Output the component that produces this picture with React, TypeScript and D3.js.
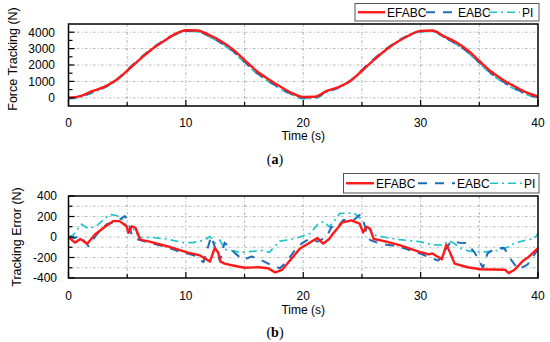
import React, { useRef, useEffect } from 'react';
import * as d3 from 'd3';

// Force tracking (top panel), sampled every second
const forceTime = d3.range(0, 41);
const forceEFABC = [0, 100, 400, 650, 1050, 1650, 2300, 2900, 3400, 3850, 4120, 4100, 3820, 3450, 2950, 2300, 1650, 1150, 700, 300, 50,
  60, 420, 650, 1030, 1650, 2300, 2900, 3400, 3800, 4080, 4100, 3750, 3400, 2900, 2250, 1600, 1100, 700, 330, 80];
const forceEABC = [-20, 60, 340, 620, 1050, 1700, 2350, 2950, 3450, 3850, 4080, 4050, 3750, 3350, 2850, 2200, 1550, 1050, 600, 230, 0,
  20, 380, 620, 1030, 1700, 2350, 2950, 3450, 3820, 4050, 4070, 3700, 3300, 2800, 2150, 1500, 1000, 580, 250, 20];
const forcePI = [-60, 20, 300, 580, 1000, 1620, 2280, 2880, 3400, 3800, 4050, 4030, 3720, 3320, 2800, 2150, 1500, 1000, 560, 180, -60,
  -40, 330, 580, 990, 1620, 2280, 2880, 3400, 3780, 4030, 4050, 3680, 3280, 2760, 2100, 1450, 950, 530, 200, -30];

// Tracking error (bottom panel), [time, error]
const errEFABC = [[0, 0], [0.55, -55], [1.0, -20], [1.6, -65], [2.25, 25], [3.0, 90], [3.8, 155], [4.35, 155], [4.95, 105], [5.1, 40],
  [5.4, 105], [5.7, 90], [6.1, -25], [6.9, -45], [8.4, -90], [10.1, -150], [11.2, -180], [12.05, -240], [12.45, -110], [12.75, -150],
  [12.95, -240], [13.3, -260], [14.0, -278], [15.0, -300], [16.2, -295], [17.0, -305], [17.6, -345], [18.2, -320], [18.9, -225],
  [19.7, -115], [21.2, -10], [21.7, -65], [22.2, -20], [22.55, 35], [23.3, 140], [24.1, 163], [24.8, 130], [25.1, 45], [25.4, 100],
  [25.7, 80], [26.0, -20], [26.9, -40], [28.2, -80], [29.9, -145], [30.7, -170], [31.0, -160], [31.8, -218], [32.2, -75],
  [32.5, -150], [32.9, -260], [34.0, -295], [35.1, -315], [37.2, -320], [37.5, -352], [38.0, -320], [38.7, -235], [39.2, -195],
  [40, -108]];
const errEABC = [[0, 0], [0.5, -10], [1.0, 10], [1.7, -90], [2.4, 25], [3.25, 125], [4.1, 150], [4.8, 205], [5.1, 150], [5.4, 10],
  [5.8, -20], [6.4, -40], [8.1, -90], [9.5, -145], [10.6, -175], [11.5, -245], [12.15, 5], [12.9, -230], [13.3, -55], [14.2, -160],
  [14.9, -225], [15.6, -190], [16.3, -220], [17.3, -275], [18.0, -305], [18.6, -240], [19.3, -125], [19.9, -60], [20.6, -15],
  [21.2, -45], [22.0, 0], [22.4, 100], [22.8, 80], [23.4, 165], [24.3, 165], [24.8, 215], [25.1, 160], [25.4, 50], [25.7, -30],
  [26.3, -55], [27.1, -75], [28.2, -95], [29.9, -160], [31.0, -210], [31.5, -230], [32.6, -40], [33.3, -55], [33.9, -60],
  [34.6, -150], [35.3, -300], [35.7, -160], [36.3, -115], [37.1, -105], [37.7, -220], [38.3, -315], [39.1, -270], [40, -120]];
const errPI = [[0, 0], [0.4, 20], [1.1, 125], [1.7, 80], [2.4, 110], [3.0, 170], [3.5, 220], [4.1, 210], [4.7, 165], [5.1, 70],
  [5.5, 80], [6.1, -5], [7.2, -5], [8.4, -20], [9.8, -55], [10.6, -55], [11.2, -40], [11.6, -30], [12.05, 5], [12.5, -60],
  [12.9, -30], [13.3, -120], [14.2, -140], [14.6, -150], [15.7, -140], [16.6, -130], [17.1, -150], [17.5, -100], [18.0, -40],
  [18.9, -25], [19.7, 0], [20.6, 35], [21.3, 135], [21.8, 150], [22.2, 100], [22.6, 150], [23.1, 230], [24.3, 235], [24.8, 190],
  [25.4, 110], [26.0, 20], [27.1, -5], [28.2, -25], [29.9, -45], [31.0, -75], [31.9, -80], [32.3, -40], [32.7, -50],
  [33.5, -115], [34.2, -140], [35.5, -145], [36.7, -130], [37.4, -100], [38.0, -60], [39.0, -30], [39.7, -15], [40, 35]];

const xTicks = [0, 10, 20, 30, 40];
const forceTicks = [0, 1000, 2000, 3000, 4000];
const errTicks = [-400, -200, 0, 200, 400];
const seriesNames = ['EFABC', 'EABC', 'PI'];

const FONT = "Arial, 'Liberation Sans', sans-serif";
const colors = ['#ff1a1a', '#1f6db8', '#1fc3cc'];
const dashes = [null, '9,8', '8,4,2,4'];
const widths = [2.4, 2, 1.7];

const App = () => {
  const svgRef = useRef();

  useEffect(() => {
    const svg = d3.select(svgRef.current);
    svg.selectAll('*').remove();

    const drawPanel = ({ top, bottom, yDomain, yTicks, yMinor, yGrid, series, curve, yLabel, labelX, labelY, labelRight, tickBase, titleBase, legendBox, tag, tagBase, id }) => {
      const left = 68.5, right = 538;
      const x = d3.scaleLinear().domain([0, 40]).range([left, right]);
      const y = d3.scaleLinear().domain(yDomain).range([bottom, top]);
      const g = svg.append('g');

      g.append('clipPath').attr('id', id)
        .append('rect').attr('x', left).attr('y', top).attr('width', right - left).attr('height', bottom - top);

      // grid
      const grid = g.append('g').attr('stroke', '#a8a8a8').attr('stroke-width', 0.8).attr('stroke-dasharray', '3,2,1,2');
      d3.range(5, 40, 5).forEach(t => grid.append('line')
        .attr('x1', x(t)).attr('x2', x(t)).attr('y1', top).attr('y2', bottom));
      yGrid.forEach(v => grid.append('line')
        .attr('x1', left).attr('x2', right).attr('y1', y(v)).attr('y2', y(v)));

      // lines, drawn back to front so EFABC sits on top
      const lines = g.append('g').attr('clip-path', `url(#${id})`);
      series.slice().reverse().forEach((s, ri) => {
        const i = series.length - 1 - ri;
        const line = d3.line().x(d => x(d[0])).y(d => y(d[1])).curve(curve);
        lines.append('path').datum(s)
          .attr('fill', 'none')
          .attr('stroke', colors[i])
          .attr('stroke-width', widths[i])
          .attr('stroke-dasharray', dashes[i])
          .attr('stroke-linejoin', 'round')
          .attr('d', line);
      });

      // ticks
      const ticks = g.append('g').attr('stroke', '#000').attr('stroke-width', 1.2);
      xTicks.forEach(t => ticks.append('line').attr('x1', x(t)).attr('x2', x(t)).attr('y1', bottom).attr('y2', bottom - 6));
      d3.range(5, 40, 10).forEach(t => ticks.append('line').attr('x1', x(t)).attr('x2', x(t)).attr('y1', bottom).attr('y2', bottom - 4));
      yTicks.forEach(v => ticks.append('line').attr('x1', left).attr('x2', left + 6).attr('y1', y(v)).attr('y2', y(v)));
      yMinor.forEach(v => ticks.append('line').attr('x1', left).attr('x2', left + 4).attr('y1', y(v)).attr('y2', y(v)));

      g.append('rect').attr('x', left).attr('y', top).attr('width', right - left).attr('height', bottom - top)
        .attr('fill', 'none').attr('stroke', '#000').attr('stroke-width', 1.5);

      // tick labels
      xTicks.forEach(t => g.append('text').attr('x', x(t)).attr('y', tickBase)
        .attr('text-anchor', 'middle').attr('font-family', FONT).attr('font-size', 12).text(t));
      yTicks.forEach(v => g.append('text').attr('x', labelRight).attr('y', y(v)).attr('dy', '0.36em')
        .attr('text-anchor', 'end').attr('font-family', FONT).attr('font-size', 12).text(v));

      g.append('text').attr('x', x(20)).attr('y', titleBase).attr('text-anchor', 'middle')
        .attr('font-family', FONT).attr('font-size', 12).text('Time (s)');
      g.append('text').attr('transform', `translate(${labelX},${labelY}) rotate(-90)`).attr('dy', '0.36em')
        .attr('text-anchor', 'middle').attr('font-family', FONT).attr('font-size', 12.5).text(yLabel);

      // panel tag
      const tagText = g.append('text').attr('x', 275).attr('y', tagBase).attr('text-anchor', 'middle')
        .attr('font-family', "'Liberation Serif', 'DejaVu Serif', serif").attr('font-size', 14);
      tagText.append('tspan').text('(');
      tagText.append('tspan').attr('font-weight', 'bold').text(tag);
      tagText.append('tspan').text(')');

      // legend
      const lg = g.append('g');
      lg.append('rect').attr('x', legendBox.x).attr('y', legendBox.y).attr('width', legendBox.w).attr('height', legendBox.h)
        .attr('fill', '#fff').attr('stroke', '#555').attr('stroke-width', 1);
      const ly = legendBox.y + legendBox.h / 2;
      legendBox.items.forEach((it, i) => {
        lg.append('line').attr('x1', it.x1).attr('x2', it.x2).attr('y1', ly).attr('y2', ly)
          .attr('stroke', colors[i]).attr('stroke-width', widths[i]).attr('stroke-dasharray', dashes[i]);
        lg.append('text').attr('x', it.tx).attr('y', ly).attr('dy', '0.36em')
          .attr('font-family', FONT).attr('font-size', 12).text(seriesNames[i]);
      });
    };

    drawPanel({
      id: 'clipA', top: 24, bottom: 106, yDomain: [-500, 4500],
      yTicks: forceTicks, yMinor: [500, 1500, 2500, 3500], yGrid: forceTicks,
      series: [forceEFABC, forceEABC, forcePI].map(vals => forceTime.map((t, i) => [t, vals[i]])),
      curve: d3.curveMonotoneX,
      yLabel: 'Force Tracking (N)', labelX: 12, labelY: 59, labelRight: 55,
      tickBase: 127, titleBase: 140, tag: 'a', tagBase: 164,
      legendBox: {
        x: 355, y: 3.5, w: 184, h: 17.5,
        items: [{ x1: 358, x2: 385, tx: 387 }, { x1: 426, x2: 456, tx: 458 }, { x1: 489, x2: 520, tx: 522 }]
      }
    });

    drawPanel({
      id: 'clipB', top: 196, bottom: 278, yDomain: [-400, 400],
      yTicks: errTicks, yMinor: [-300, -100, 100, 300], yGrid: d3.range(-300, 301, 100),
      series: [errEFABC, errEABC, errPI],
      curve: d3.curveLinear,
      yLabel: 'Tracking Error (N)', labelX: 16, labelY: 237, labelRight: 57,
      tickBase: 300, titleBase: 314, tag: 'b', tagBase: 337,
      legendBox: {
        x: 343.5, y: 173.5, w: 195.5, h: 19.5,
        items: [{ x1: 346, x2: 374, tx: 376 }, { x1: 418, x2: 455, tx: 457 }, { x1: 490, x2: 522, tx: 524 }]
      }
    });
  }, []);

  return <svg ref={svgRef} width={550} height={342} style={{ position: 'absolute', left: 0, top: 0, background: '#fff' }}></svg>;
};

export default App;
